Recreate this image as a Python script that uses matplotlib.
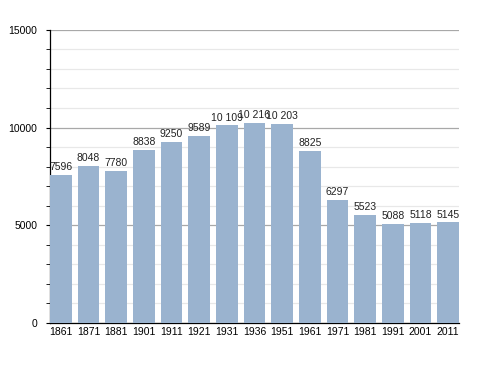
import matplotlib.pyplot as plt
from matplotlib.ticker import MultipleLocator

years = ['1861', '1871', '1881', '1901', '1911', '1921', '1931', '1936',
         '1951', '1961', '1971', '1981', '1991', '2001', '2011']
population = [7596, 8048, 7780, 8838, 9250, 9589, 10109, 10216,
              10203, 8825, 6297, 5523, 5088, 5118, 5145]

plt.rcParams['font.family'] = ['Liberation Sans', 'DejaVu Sans']

fig = plt.figure(figsize=(4.88, 3.73), dpi=100)
ax = fig.add_axes([0.1025, 0.134, 0.838, 0.786])

w = 0.78
x = list(range(len(years)))
ax.bar(x, population, width=w, color='#9ab3cf', zorder=3)

# value labels, thousands separated by a space
for xi, v in zip(x, population):
    s = f"{v:,}".replace(',', ' ') if v >= 10000 else str(v)
    ax.text(xi, v + 150, s, ha='center', va='bottom', fontsize=7.5, color='#222222', zorder=4)

ax.set_xlim(-w / 2, len(years) - 1 + w / 2)
ax.set_ylim(0, 15000)
ax.set_xticks(x)
ax.set_xticklabels(years)
ax.yaxis.set_major_locator(MultipleLocator(5000))
ax.yaxis.set_minor_locator(MultipleLocator(1000))

ax.grid(axis='y', which='major', color='#a8a8a8', linewidth=0.9, zorder=0)
ax.grid(axis='y', which='minor', color='#e8e8e8', linewidth=0.9, zorder=0)

for side in ['top', 'right']:
    ax.spines[side].set_visible(False)
ax.spines['left'].set_linewidth(0.9)
ax.spines['bottom'].set_linewidth(0.9)

ax.tick_params(axis='x', length=0, labelsize=7.5, pad=3)
ax.tick_params(axis='y', which='major', length=3, labelsize=7.5, pad=6)
ax.tick_params(axis='y', which='minor', length=3)

fig.savefig('out.png', dpi=100)
